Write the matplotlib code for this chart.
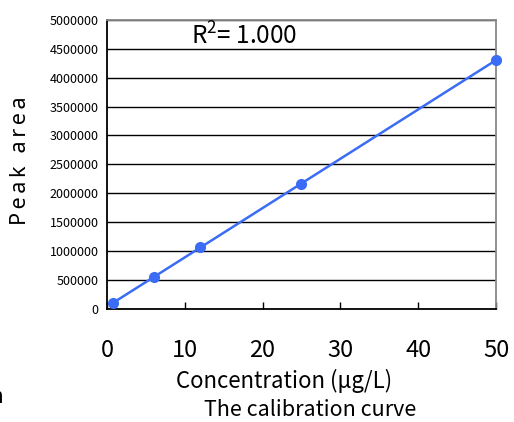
import matplotlib
matplotlib.use("Agg")
import matplotlib.pyplot as plt
import numpy as np

# Calibration data
conc = [0.75, 6, 12, 25, 50]
area = [100000, 545000, 1075000, 2160000, 4305000]
yticks = [0, 500000, 1000000, 1500000, 2000000, 2500000,
          3000000, 3500000, 4000000, 4500000, 5000000]
xticks = [0, 10, 20, 30, 40, 50]
r2_text = "R$^2$= 1.000"

blue = "#3b6cf5"
cjk = ["Noto Sans CJK JP", "DejaVu Sans"]
plt.rcParams["font.family"] = cjk
plt.rcParams["mathtext.fontset"] = "custom"
plt.rcParams["mathtext.rm"] = "Noto Sans CJK JP"

fig = plt.figure(figsize=(5.14, 4.22), dpi=100)
ax = fig.add_axes([0.208, 0.268, 0.757, 0.685])

# linear fit line
k, b = np.polyfit(conc, area, 1)
xs = np.array([min(conc), max(conc)])
ax.plot(xs, k * xs + b, color=blue, lw=1.8, zorder=3)
ax.plot(conc, area, "o", color=blue, ms=7, zorder=4, clip_on=False)

ax.set_xlim(0, 50)
ax.set_ylim(0, 5000000)
ax.set_yticks(yticks)
ax.set_yticklabels([str(v) for v in yticks], fontsize=9)
ax.set_xticks(xticks)
ax.set_xticklabels([str(v) for v in xticks], fontsize=17)
ax.tick_params(axis="y", length=0, pad=6)
ax.tick_params(axis="x", direction="in", length=5, width=1, pad=22)

for y in yticks[1:]:
    ax.axhline(y, color="black", lw=1.0, zorder=1)

ax.spines["left"].set_color("black")
ax.spines["bottom"].set_color("black")
ax.spines["top"].set_color("#888888")
ax.spines["right"].set_color("#888888")
for s in ax.spines.values():
    s.set_linewidth(1.3)

ax.text(0.352, 0.94, r2_text, transform=ax.transAxes, fontsize=17.5,
        ha="center", va="center")

fig.text(0.040, 0.62, "P\u2009e\u2009a\u2009k\u2009 \u2009a\u2009r\u2009e\u2009a",
         rotation=90, fontsize=15.5, ha="center", va="center",
         family=["Noto Sans", "DejaVu Sans"])
fig.text(0.552, 0.098, "Concentration (μg/L)", fontsize=16, ha="center", va="center")
fig.text(0.603, 0.028, "The calibration curve", fontsize=15.5, ha="center", va="center")
# cut-off character at the left edge of the source image
fig.text(-0.019, 0.06, "n", fontsize=15, ha="left", va="center")

fig.savefig("out.png", dpi=100)
